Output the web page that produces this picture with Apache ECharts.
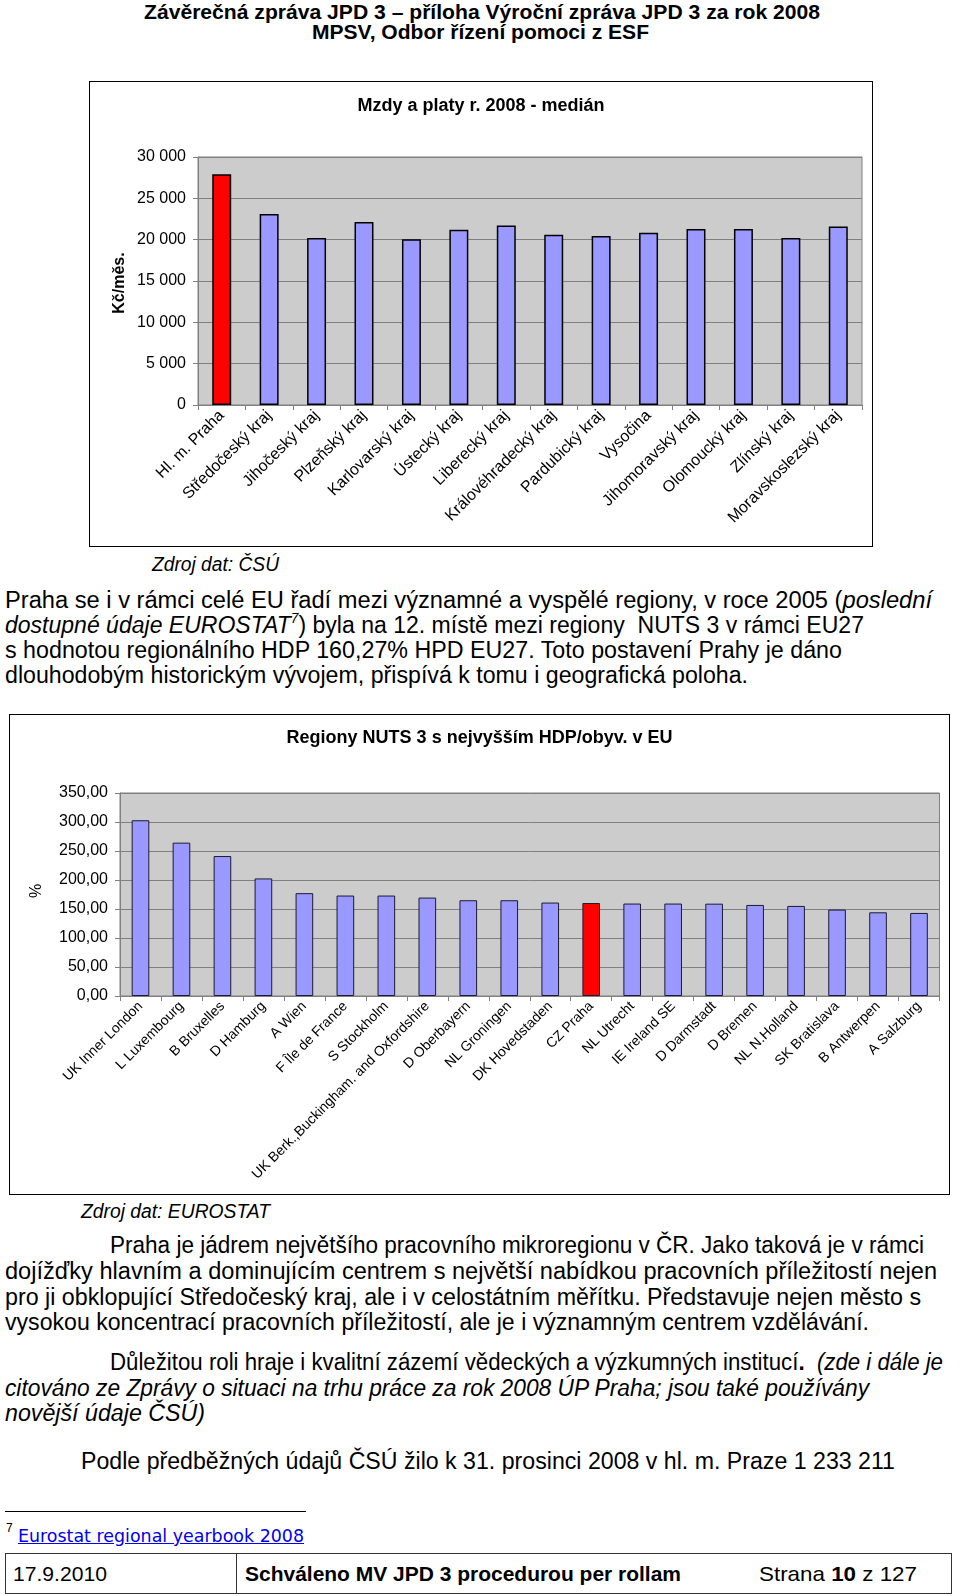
<!DOCTYPE html>
<html><head><meta charset="utf-8">
<script src="https://cdn.jsdelivr.net/npm/echarts@6/dist/echarts.min.js"></script>
<style>
html,body{margin:0;padding:0;background:#fff;}
body{width:960px;height:1596px;position:relative;overflow:hidden;font-family:"Liberation Sans",Arial,sans-serif;color:#000;}
.ln{position:absolute;white-space:nowrap;line-height:1;display:inline-block;transform-origin:0 0;}
.b{font-weight:bold;}
.i{font-style:italic;}
.p{font-size:23px;}
.box{position:absolute;border:1.5px solid #000;box-sizing:border-box;}
#c1,#c2{position:absolute;}
sup{font-size:60%;line-height:0;vertical-align:0.7em;}
</style></head>
<body>
<div class="ln b" style="font-size:20px;left:144px;top:2.2px" data-w="676">Závěrečná zpráva JPD 3 – příloha Výroční zpráva JPD 3 za rok 2008</div>
<div class="ln b" style="font-size:20px;left:312px;top:22.2px" data-w="337">MPSV, Odbor řízení pomoci z ESF</div>

<div id="c1" style="left:89px;top:81px;width:784px;height:466px"></div>
<div class="box" style="left:89px;top:81px;width:784px;height:466px"></div>
<div class="ln i" style="font-size:20px;left:152px;top:554.2px" data-w="127">Zdroj dat: ČSÚ</div>

<div class="ln p" style="left:5px;top:588.8px" data-w="927">Praha se i v rámci celé EU řadí mezi významné a vyspělé regiony, v roce 2005 (<i>poslední</i></div>
<div class="ln p" style="left:5px;top:613.8px" data-w="859"><i>dostupné údaje EUROSTAT<sup>7</sup></i>) byla na 12. místě mezi regiony&nbsp; NUTS 3 v rámci EU27</div>
<div class="ln p" style="left:5px;top:638.8px" data-w="837">s hodnotou regionálního HDP 160,27% HPD EU27. Toto postavení Prahy je dáno</div>
<div class="ln p" style="left:5px;top:664.3px" data-w="743">dlouhodobým historickým vývojem, přispívá k tomu i geografická poloha.</div>

<div id="c2" style="left:9px;top:714px;width:941px;height:481px"></div>
<div class="box" style="left:9px;top:714px;width:941px;height:481px"></div>
<div class="ln i" style="font-size:20px;left:81px;top:1201.2px" data-w="189">Zdroj dat: EUROSTAT</div>

<div class="ln p" style="left:110px;top:1233.8px" data-w="814">Praha je jádrem největšího pracovního mikroregionu v ČR. Jako taková je v rámci</div>
<div class="ln p" style="left:5px;top:1259.8px" data-w="932">dojížďky hlavním a dominujícím centrem s největší nabídkou pracovních příležitostí nejen</div>
<div class="ln p" style="left:5px;top:1285.8px" data-w="916">pro ji obklopující Středočeský kraj, ale i v celostátním měřítku. Představuje nejen město s</div>
<div class="ln p" style="left:5px;top:1310.8px" data-w="864">vysokou koncentrací pracovních příležitostí, ale je i významným centrem vzdělávání.</div>

<div class="ln p" style="left:110px;top:1350.8px" data-w="833">Důležitou roli hraje i kvalitní zázemí vědeckých a výzkumných institucí<b>.</b>&nbsp; <i>(zde i dále je</i></div>
<div class="ln p i" style="left:5px;top:1376.8px" data-w="864">citováno ze Zprávy o situaci na trhu práce za rok 2008 ÚP Praha; jsou také používány</div>
<div class="ln p i" style="left:5px;top:1401.8px" data-w="200">novější údaje ČSÚ)</div>

<div class="ln p" style="left:81px;top:1449.8px" data-w="814">Podle předběžných údajů ČSÚ žilo k 31. prosinci 2008 v hl. m. Praze 1 233 211</div>

<div style="position:absolute;left:5px;top:1511px;width:301px;border-top:1.5px solid #000"></div>
<div class="ln" style="font-size:12px;left:6px;top:1522px">7</div>
<div class="ln" style="font-family:'DejaVu Sans',Verdana,sans-serif;font-size:17px;left:18px;top:1528px;color:#0000ee;text-decoration:underline" data-w="286">Eurostat regional yearbook 2008</div>

<div class="box" style="left:5px;top:1553px;width:947px;height:41px;border-color:#333"></div>
<div style="position:absolute;left:236px;top:1553px;height:41px;border-left:1.5px solid #333"></div>
<div class="ln" style="font-size:21px;left:13px;top:1562.7px" data-w="94">17.9.2010</div>
<div class="ln b" style="font-size:21px;left:245px;top:1562.7px" data-w="436">Schváleno MV JPD 3 procedurou per rollam</div>
<div class="ln" style="font-size:21px;left:759px;top:1562.7px" data-w="158">Strana <b>10</b> z 127</div>

<script>
// ---- data: chart 1 (Mzdy a platy r. 2008 - medián, Kč/měs.) ----
const regions = ['Hl. m. Praha','Středočeský kraj','Jihočeský kraj','Plzeňský kraj','Karlovarský kraj','Ústecký kraj','Liberecký kraj','Královéhradecký kraj','Pardubický kraj','Vysočina','Jihomoravský kraj','Olomoucký kraj','Zlínský kraj','Moravskoslezský kraj'];
const medianWage = [27900, 23100, 20200, 22150, 20050, 21200, 21700, 20600, 20450, 20850, 21300, 21300, 20200, 21600];
const wageTicks = [0, 5000, 10000, 15000, 20000, 25000, 30000];
const highlight1 = 'Hl. m. Praha';

// ---- data: chart 2 (Regiony NUTS 3 s nejvyšším HDP/obyv. v EU, %) ----
const nuts3 = ['UK Inner London','L Luxembourg','B Bruxelles','D Hamburg','A Wien','F Île de France','S Stockholm','UK Berk.,Buckingham. and Oxfordshire','D Oberbayern','NL Groningen','DK Hovedstaden','CZ Praha','NL Utrecht','IE Ireland SE','D Darmstadt','D Bremen','NL N.Holland','SK Bratislava','B Antwerpen','A Salzburg'];
const gdpPct = [303.0, 264.4, 241.3, 202.7, 177.3, 173.2, 173.2, 169.7, 165.1, 165.1, 161.1, 160.27, 159.4, 159.4, 159.2, 157.0, 155.3, 149.0, 144.3, 143.2];
const pctTicks = [0, 50, 100, 150, 200, 250, 300, 350];
const highlight2 = 'CZ Praha';

// fit document text lines to their measured widths
document.querySelectorAll('.ln[data-w]').forEach(el => {
  const w = el.getBoundingClientRect().width;
  const t = parseFloat(el.dataset.w);
  if (w > 0) el.style.transform = 'scaleX(' + (t / w).toFixed(4) + ')';
});

const FF = '"Liberation Sans", Arial, sans-serif';
const fmtSpace = v => String(v).replace(/\B(?=(\d{3})+(?!\d))/g, ' ');
const fmtComma = v => v.toFixed(2).replace('.', ',');

function makeOpt(cfg) {
  return {
    animation: false,
    textStyle: { fontFamily: FF },
    graphic: [
      { type: 'text', left: 'center', top: cfg.titleTop, style: { text: cfg.title, font: 'bold ' + cfg.titleSize + 'px ' + FF, fill: '#000' } },
      { type: 'text', x: cfg.nameX, y: cfg.nameY, rotation: Math.PI / 2, style: { text: cfg.yName, font: cfg.nameFont + FF, fill: '#000', align: 'center', verticalAlign: 'middle' } }
    ],
    grid: { left: cfg.grid[0], right: cfg.grid[1], top: cfg.grid[2], bottom: cfg.grid[3], show: true, backgroundColor: '#cccccc', borderColor: '#808080', borderWidth: 1 },
    xAxis: {
      type: 'category', data: cfg.cats, boundaryGap: true,
      axisLine: { lineStyle: { color: '#808080', width: 1 } },
      axisTick: { show: true, length: 5, lineStyle: { color: '#808080' } },
      axisLabel: { interval: 0, rotate: 45, color: '#000', fontSize: cfg.xFont, fontFamily: FF, margin: 8 }
    },
    yAxis: {
      type: 'value', min: cfg.ticks[0], max: cfg.ticks[cfg.ticks.length - 1], interval: cfg.ticks[1] - cfg.ticks[0],
      axisLine: { show: true, lineStyle: { color: '#808080' } },
      axisTick: { show: true, length: 5, lineStyle: { color: '#808080' } },
      splitLine: { lineStyle: { color: '#808080', width: 1 } },
      axisLabel: { color: '#000', fontSize: 16, fontFamily: FF, margin: 12, formatter: cfg.fmt }
    },
    series: [{
      type: 'bar', data: cfg.vals, barWidth: cfg.barWidth,
      itemStyle: {
        color: p => p.name === cfg.hl ? '#ff0000' : '#9999ff',
        borderColor: cfg.border, borderWidth: cfg.borderWidth
      }
    }]
  };
}

const c1 = echarts.init(document.getElementById('c1'), null, { renderer: 'canvas' });
c1.setOption(makeOpt({
  title: 'Mzdy a platy r. 2008 - medián', titleTop: 16, titleSize: 18,
  yName: 'Kč/měs.', nameX: 31, nameY: 202, nameFont: 'bold 16px ',
  grid: [109, 11, 76, 142], cats: regions, vals: medianWage, ticks: wageTicks,
  fmt: fmtSpace, xFont: 16, barWidth: '40%', hl: highlight1, border: '#000', borderWidth: 1.5
}));

const c2 = echarts.init(document.getElementById('c2'), null, { renderer: 'canvas' });
c2.setOption(makeOpt({
  title: 'Regiony NUTS 3 s nejvyšším HDP/obyv. v EU', titleTop: 15, titleSize: 18,
  yName: '%', nameX: 28, nameY: 177, nameFont: '16px ',
  grid: [111, 10.5, 79, 199], cats: nuts3, vals: gdpPct, ticks: pctTicks,
  fmt: fmtComma, xFont: 14, barWidth: '43%', hl: highlight2, border: '#1a1a33', borderWidth: 1
}));
</script>
</body></html>
